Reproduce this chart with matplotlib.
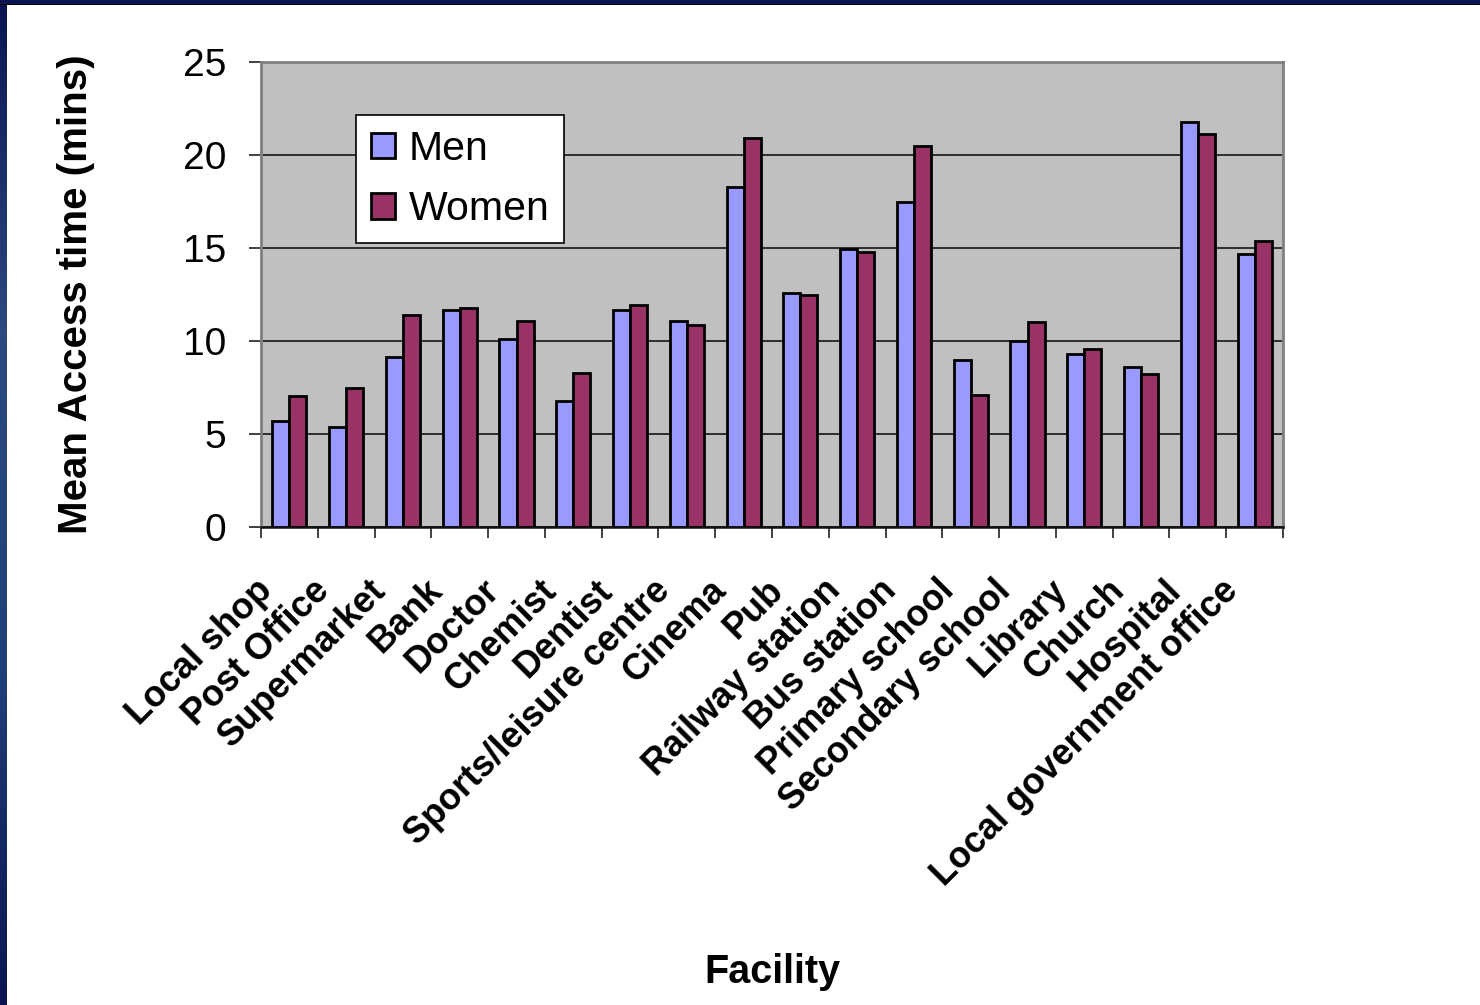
import numpy as np
import matplotlib
matplotlib.use("Agg")
import matplotlib.pyplot as plt
from matplotlib.colors import LinearSegmentedColormap
from matplotlib.patches import Rectangle
from matplotlib.transforms import ScaledTranslation

plt.rcParams['font.family'] = ['Liberation Sans', 'DejaVu Sans']

facilities = ["Local shop", "Post Office", "Supermarket", "Bank", "Doctor", "Chemist",
              "Dentist", "Sports/leisure centre", "Cinema", "Pub", "Railway station",
              "Bus station", "Primary school", "Secondary school", "Library", "Church",
              "Hospital", "Local government office"]
men = [5.7, 5.4, 9.15, 11.65, 10.1, 6.75, 11.65, 11.1, 18.3, 12.6, 14.95, 17.45,
       9.0, 10.0, 9.3, 8.6, 21.75, 14.7]
women = [7.05, 7.5, 11.4, 11.75, 11.1, 8.3, 11.95, 10.85, 20.9, 12.5, 14.8, 20.5,
         7.1, 11.0, 9.55, 8.2, 21.15, 15.35]
y_ticks = [0, 5, 10, 15, 20, 25]

MEN_COLOR = "#9999ff"
WOMEN_COLOR = "#993366"

fig = plt.figure(figsize=(14.8, 10.05), dpi=100, facecolor="white")

# dark slide frame along the left and top edges
frame_cmap = LinearSegmentedColormap.from_list("frame", ["#0a1450", "#2c4a80", "#203f78", "#0a1450"])
lax = fig.add_axes([0, 0, 7 / 1480, 1])
lax.imshow(np.linspace(0, 1, 256).reshape(-1, 1), aspect="auto", cmap=frame_cmap,
           extent=[0, 1, 0, 1])
lax.axis("off")
fig.add_artist(Rectangle((0, 1 - 4 / 1005), 1, 4 / 1005, transform=fig.transFigure,
                         facecolor="#0b1550", edgecolor="none"))
fig.add_artist(Rectangle((0, 1 - 5 / 1005), 1, 1.2 / 1005, transform=fig.transFigure,
                         facecolor="#000000", edgecolor="none"))

ax = fig.add_axes([261 / 1480, 1 - 527 / 1005, 1022 / 1480, 465 / 1005])
ax.set_facecolor("#c0c0c0")

x = np.arange(len(facilities))
w = 0.3
ax.bar(x - w / 2, men, width=w, color=MEN_COLOR, edgecolor="black", linewidth=2.0,
       label="Men", zorder=3)
ax.bar(x + w / 2, women, width=w, color=WOMEN_COLOR, edgecolor="black", linewidth=2.0,
       label="Women", zorder=3)

ax.set_xlim(-0.5, len(facilities) - 0.5)
ax.set_ylim(0, 25)
ax.set_yticks(y_ticks)
ax.set_yticklabels([str(v) for v in y_ticks], fontsize=28)
ax.yaxis.grid(True, color="#222222", linewidth=1.3, zorder=1)
ax.set_axisbelow(True)

# category ticks sit on the boundaries between groups
ax.set_xticks(np.arange(-0.5, len(facilities) + 0.5, 1.0))
ax.set_xticklabels([])
ax.tick_params(axis="x", which="major", direction="out", length=8, width=1.3, color="#333333")
ax.tick_params(axis="y", direction="out", length=9, width=1.3, color="#333333", pad=16)

# slanted category names, anchored at their right end below each group
label_tr = ax.get_xaxis_transform() + ScaledTranslation(-16 / 72, -42 / 72, fig.dpi_scale_trans)
for xi, name in zip(x, facilities):
    ax.text(xi, 0, name, transform=label_tr, rotation=45, ha="right", va="center",
            rotation_mode="anchor", fontsize=26, fontweight="bold")

for side in ("left", "top", "right"):
    ax.spines[side].set_color("#808080")
    ax.spines[side].set_linewidth(2.0)
ax.spines["bottom"].set_color("#111111")
ax.spines["bottom"].set_linewidth(1.8)

ax.set_ylabel("Mean Access time (mins)", fontsize=29, fontweight="bold", labelpad=63)
fig.text(772 / 1480, 1 - 972 / 1005, "Facility", fontsize=28.5, fontweight="bold",
         ha="center", va="center")

leg = ax.legend(loc="upper left", bbox_to_anchor=((356 - 261) / 1022, (527 - 115) / 465),
                fontsize=29.5, frameon=True, fancybox=False, edgecolor="black",
                framealpha=1, borderpad=0.36, handlelength=0.58, handleheight=0.58,
                handletextpad=0.35, labelspacing=0.55, borderaxespad=0)
leg.get_frame().set_linewidth(1.2)
for h in leg.legend_handles:
    h.set_linewidth(2.0)

fig.savefig("out.png", dpi=100, facecolor="white")
